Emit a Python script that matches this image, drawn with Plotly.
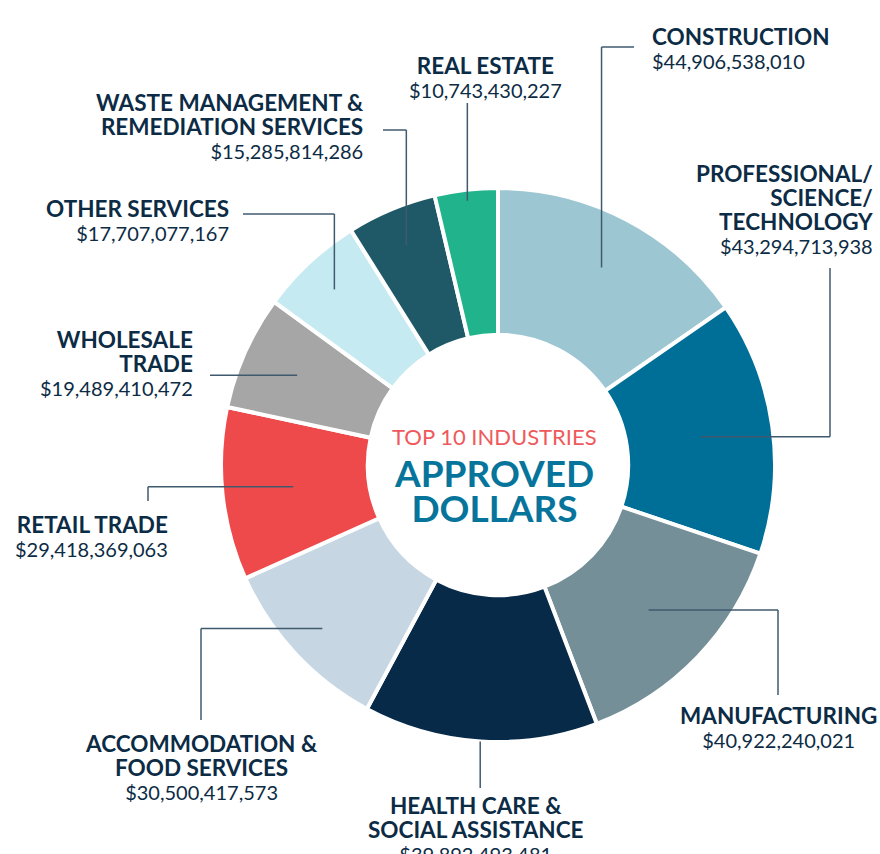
import math
import plotly.graph_objects as go

W, H = 880, 854

industries = [
    "CONSTRUCTION", "PROFESSIONAL/\nSCIENCE/\nTECHNOLOGY", "MANUFACTURING",
    "HEALTH CARE &\nSOCIAL ASSISTANCE", "ACCOMMODATION &\nFOOD SERVICES",
    "RETAIL TRADE", "WHOLESALE\nTRADE", "OTHER SERVICES",
    "WASTE MANAGEMENT &\nREMEDIATION SERVICES", "REAL ESTATE",
]
approved = [
    44906538010, 43294713938, 40922240021, 39892493481, 30500417573,
    29418369063, 19489410472, 17707077167, 15285814286, 10743430227,
]
colors = [
    "#9dc6d3", "#006f97", "#748f97", "#062a47", "#c6d7e3",
    "#ee4a4c", "#a6a6a6", "#c6eaf2", "#1f5967", "#21b38b",
]

NAVY = "#0c2b45"
LINE = "#3f5a6e"
FONT = "Lato"

# pie geometry in pixels
cx, cy, R = 498, 465, 277

# label placement: leader start radius, route, text anchor, first-line y
placement = [
    dict(r=223, route=[("v", 47), ("h", 634)], x=650, xa="left", y=36),
    dict(r=204, route=[("h", 830), ("v", 268)], x=875, xa="right", y=173),
    dict(r=209, route=[("h", 778), ("v", 695)], x=778, xa="center", y=715),
    dict(r=277, route=[("v", 788)], x=476, xa="center", y=805),
    dict(r=240, route=[("h", 201), ("v", 720)], x=201, xa="center", y=743),
    dict(r=206, route=[("h", 148), ("v", 501)], x=170, xa="right", y=524),
    dict(r=220, route=[("h", 210)], x=195, xa="right", y=339),
    dict(r=240, route=[("v", 214), ("h", 243)], x=231, xa="right", y=208),
    dict(r=238, route=[("v", 130), ("h", 383)], x=366, xa="right", y=102),
    dict(r=266, route=[("v", 103)], x=485, xa="center", y=65),
]

def px(x):
    return x / W

def py(y):
    return 1 - y / H

fig = go.Figure(go.Pie(
    labels=industries,
    values=approved,
    marker=dict(colors=colors, line=dict(color="white", width=4)),
    hole=0.47,
    sort=False,
    direction="clockwise",
    rotation=0,
    textinfo="none",
    hoverinfo="label+value",
    showlegend=False,
    domain=dict(x=[px(cx - R), px(cx + R)], y=[py(cy + R), py(cy - R)]),
))

total = sum(approved)
shapes, annotations = [], []
cum = 0
for name, val, p in zip(industries, approved, placement):
    mid = (cum + val / 2) / total * 2 * math.pi
    cum += val
    x0 = cx + p["r"] * math.sin(mid)
    y0 = cy - p["r"] * math.cos(mid)
    for kind, target in p["route"]:
        x1, y1 = (x0, target) if kind == "v" else (target, y0)
        shapes.append(dict(type="line", xref="paper", yref="paper",
                           x0=px(x0), y0=py(y0), x1=px(x1), y1=py(y1),
                           line=dict(color=LINE, width=1.5)))
        x0, y0 = x1, y1

    # one text block per label; line height follows the base size (18.5 -> 24px)
    lines = [f"<span style='font-size:22.5px'><b>{ln}</b></span>" for ln in name.split("\n")]
    lines.append(f"<span style='font-size:20px'>${val:,}</span>")
    n = len(lines)
    annotations.append(dict(
        text="<br>".join(lines), x=px(p["x"]), y=py(p["y"] + (n - 1) * 12),
        xref="paper", yref="paper", xanchor=p["xa"], yanchor="middle", align=p["xa"],
        showarrow=False, font=dict(family=FONT, size=18.5, color=NAVY)))

# centre text
tx = cx - 4
annotations += [
    dict(text="TOP 10 INDUSTRIES", x=px(tx), y=py(436), xref="paper", yref="paper",
         showarrow=False, yanchor="middle",
         font=dict(family=FONT, size=22, color="#ee5a5c")),
    dict(text="<span style='font-size:37px'><b>APPROVED</b><br><b>DOLLARS</b></span>",
         x=px(tx), y=py(489.5), xref="paper", yref="paper",
         showarrow=False, yanchor="middle",
         font=dict(family=FONT, size=27, color="#07759b")),
]

fig.update_layout(
    width=W, height=H,
    margin=dict(l=0, r=0, t=0, b=0),
    paper_bgcolor="white",
    plot_bgcolor="white",
    shapes=shapes,
    annotations=annotations,
)
# drop the default page margin so the figure fills the window exactly
fig.write_html("out.html", config={"displayModeBar": False},
               post_script="document.body.style.margin='0';")
